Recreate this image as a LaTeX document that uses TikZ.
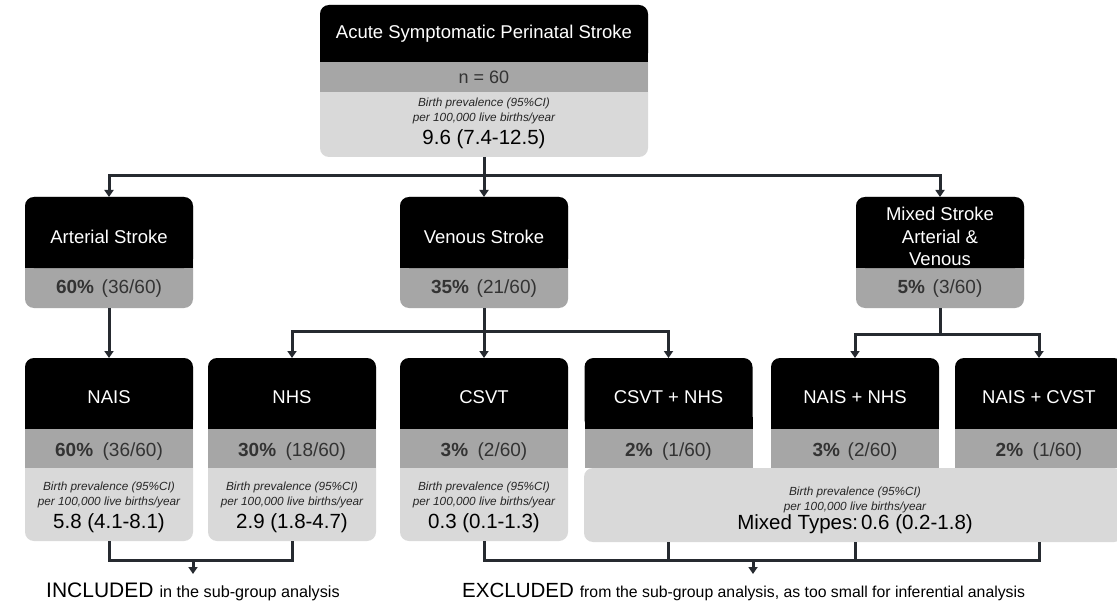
\documentclass[tikz,border=0pt]{standalone}
\usepackage{fontspec}
\setmainfont{Liberation Sans}
\usetikzlibrary{arrows.meta}
\definecolor{band}{HTML}{A6A6A6}
\definecolor{lite}{HTML}{D9D9D9}
\definecolor{bandtxt}{HTML}{333333}
\definecolor{conncol}{HTML}{262A30}
\begin{document}
\begin{tikzpicture}[x=1pt,y=-1pt,
  bgbox/.style={rounded corners=9pt, inner sep=0pt, outer sep=0pt, draw=none},
  hdrbox/.style={rounded corners=9pt, inner sep=0pt, outer sep=0pt, fill=black, minimum height=71pt},
  bandbox/.style={inner sep=0pt, outer sep=0pt, fill=band},
  hdrtxt/.style={text=white, inner sep=0pt, align=center, font=\fontsize{18.5}{22.5}\selectfont},
  bandtxt/.style={text=bandtxt, inner sep=0pt, font=\fontsize{19}{22}\selectfont},
  smallit/.style={text=black!85, inner sep=0pt, align=center, font=\itshape\fontsize{11.8}{15.5}\selectfont},
  valtxt/.style={text=black, inner sep=0pt, font=\fontsize{20.5}{24}\selectfont},
  conn/.style={draw=conncol, line width=3pt},
  arr/.style={conn, -{Triangle[length=7pt,width=9pt]}},
]
\useasboundingbox (0,0) rectangle (1117,615);
\fill[white] (0,0) rectangle (1117,615);

% ---------- top box ----------
\node[bgbox, fill=lite, minimum width=328pt, minimum height=152pt] (top) at (484,81) {};
\node[hdrbox, minimum width=328pt, minimum height=57pt] (topH) at (484,33.5) {};
\fill[black] (320,50) rectangle (648,62);
\node[bandbox, minimum width=328pt, minimum height=30pt] (topG) at (484,77) {};
\node[hdrtxt] (topT) at (484,34) {Acute Symptomatic Perinatal Stroke};
\node[bandtxt, font=\fontsize{18}{20}\selectfont] (topN) at (484,77) {n = 60};
\node[smallit] (topBP) at (484,111) {Birth prevalence (95\%CI)\\per 100,000 live births/year};
\node[valtxt] (topV) at (484,139) {9.6 (7.4-12.5)};

% ---------- level 2 ----------
\node[bgbox, fill=band, minimum width=168pt, minimum height=111pt] (art) at (109,252.5) {};
\node[hdrbox, minimum width=168pt] (artH) at (109,232.5) {};
\fill[black] (25,256) rectangle (193,268);
\node[hdrtxt] (artT) at (109,237) {Arterial Stroke};
\node[bandtxt] (artP) at (109,289) {\textbf{60\%}\hspace{.4em}(36/60)};

\node[bgbox, fill=band, minimum width=168pt, minimum height=111pt] (ven) at (484,252.5) {};
\node[hdrbox, minimum width=168pt] (venH) at (484,232.5) {};
\fill[black] (400,256) rectangle (568,268);
\node[hdrtxt] (venT) at (484,237) {Venous Stroke};
\node[bandtxt] (venP) at (484,289) {\textbf{35\%}\hspace{.4em}(21/60)};

\node[bgbox, fill=band, minimum width=168pt, minimum height=111pt] (mix) at (940,252.5) {};
\node[hdrbox, minimum width=168pt] (mixH) at (940,232.5) {};
\fill[black] (856,256) rectangle (1024,268);
\node[hdrtxt] (mixT) at (940,236.5) {Mixed Stroke\\Arterial \&\\Venous};
\node[bandtxt] (mixP) at (940,289) {\textbf{5\%}\hspace{.4em}(3/60)};

% ---------- level 3 ----------
% NAIS
\node[bgbox, fill=lite, minimum width=168pt, minimum height=183pt] (nais) at (109,449.5) {};
\node[hdrbox, minimum width=168pt] (naisH) at (109,393.5) {};
\fill[black] (25,417) rectangle (193,429);
\node[bandbox, minimum width=168pt, minimum height=39pt] (naisG) at (109,448.5) {};
\node[hdrtxt] (naisT) at (109,397) {NAIS};
\node[bandtxt] (naisP) at (109,452) {\textbf{60\%}\hspace{.5em}(36/60)};
\node[smallit] (naisBP) at (109,495) {Birth prevalence (95\%CI)\\per 100,000 live births/year};
\node[valtxt] (naisV) at (109,523) {5.8 (4.1-8.1)};
% NHS
\node[bgbox, fill=lite, minimum width=168pt, minimum height=183pt] (nhs) at (292,449.5) {};
\node[hdrbox, minimum width=168pt] (nhsH) at (292,393.5) {};
\fill[black] (208,417) rectangle (376,429);
\node[bandbox, minimum width=168pt, minimum height=39pt] (nhsG) at (292,448.5) {};
\node[hdrtxt] (nhsT) at (292,397) {NHS};
\node[bandtxt] (nhsP) at (292,452) {\textbf{30\%}\hspace{.5em}(18/60)};
\node[smallit] (nhsBP) at (292,495) {Birth prevalence (95\%CI)\\per 100,000 live births/year};
\node[valtxt] (nhsV) at (292,523) {2.9 (1.8-4.7)};
% CSVT
\node[bgbox, fill=lite, minimum width=168pt, minimum height=183pt] (csvt) at (484,449.5) {};
\node[hdrbox, minimum width=168pt] (csvtH) at (484,393.5) {};
\fill[black] (400,417) rectangle (568,429);
\node[bandbox, minimum width=168pt, minimum height=39pt] (csvtG) at (484,448.5) {};
\node[hdrtxt] (csvtT) at (484,397) {CSVT};
\node[bandtxt] (csvtP) at (484,452) {\textbf{3\%}\hspace{.5em}(2/60)};
\node[smallit] (csvtBP) at (484,495) {Birth prevalence (95\%CI)\\per 100,000 live births/year};
\node[valtxt] (csvtV) at (484,523) {0.3 (0.1-1.3)};
% combined light box
\node[bgbox, fill=lite, minimum width=539pt, minimum height=74pt] (comb) at (853.5,505) {};
\node[smallit] (combBP) at (855,500) {Birth prevalence (95\%CI)\\per 100,000 live births/year};
\node[valtxt] (combV) at (855,524) {Mixed Types:\hspace{.15em}0.6 (0.2-1.8)};
% CSVT + NHS
\node[inner sep=0pt, outer sep=0pt, minimum width=168pt, minimum height=110pt] (cn) at (668.5,413) {};
\node[hdrbox, minimum width=168pt] (cnH) at (668.5,393.5) {};
\fill[black] (584.5,417) rectangle (752.5,429);
\node[bandbox, minimum width=168pt, minimum height=39pt] (cnG) at (668.5,448.5) {};
\node[hdrtxt] (cnT) at (668.5,397) {CSVT + NHS};
\node[bandtxt] (cnP) at (668.5,452) {\textbf{2\%}\hspace{.5em}(1/60)};
% NAIS + NHS
\node[inner sep=0pt, outer sep=0pt, minimum width=168pt, minimum height=110pt] (nn) at (855,413) {};
\node[hdrbox, minimum width=168pt] (nnH) at (855,393.5) {};
\fill[black] (771,417) rectangle (939,429);
\node[bandbox, minimum width=168pt, minimum height=39pt] (nnG) at (855,448.5) {};
\node[hdrtxt] (nnT) at (855,397) {NAIS + NHS};
\node[bandtxt] (nnP) at (855,452) {\textbf{3\%}\hspace{.4em}(2/60)};
% NAIS + CVST
\node[inner sep=0pt, outer sep=0pt, minimum width=168pt, minimum height=110pt] (nc) at (1039,413) {};
\node[hdrbox, minimum width=168pt] (ncH) at (1039,393.5) {};
\fill[black] (955,417) rectangle (1123,429);
\node[bandbox, minimum width=168pt, minimum height=39pt] (ncG) at (1039,448.5) {};
\node[hdrtxt] (ncT) at (1039,397) {NAIS + CVST};
\node[bandtxt] (ncP) at (1039,452) {\textbf{2\%}\hspace{.5em}(1/60)};

% ---------- connectors ----------
\coordinate (j1) at (484,176);
\draw[conn] (top.south) -- (j1);
\draw[arr] (j1) -| (art.north);
\draw[arr] (j1) -- (ven.north);
\draw[arr] (j1) -| (mix.north);

\draw[arr] (art.south) -- (nais.north);
\coordinate (j2) at (484,331);
\draw[conn] (ven.south) -- (j2);
\draw[arr] (j2) -| (nhs.north);
\draw[arr] (j2) -- (csvt.north);
\draw[arr] (j2) -| (cn.north);
\coordinate (j3) at (940,334);
\draw[conn] (mix.south) -- (j3);
\draw[arr] (j3) -| (nn.north);
\draw[arr] (j3) -| (nc.north);

% bottom
\coordinate (inc) at (193,560);
\coordinate (incend) at (193,574);
\coordinate (exc) at (753,560);
\coordinate (excend) at (753,574);
\draw[conn] (nais.south) -- (nais.south |- inc) -- (nhs.south |- inc) -- (nhs.south);
\draw[arr] (inc) -- (incend);
\draw[conn] (csvt.south) -- (csvt.south |- exc) -- (exc -| nc) -- (comb.south -| nc);
\draw[conn] (comb.south -| cn) -- (exc -| cn);
\draw[conn] (comb.south -| nn) -- (exc -| nn);
\draw[arr] (exc) -- (excend);

\node[anchor=base west, inner sep=0pt] (inctxt) at (46,597.5)
  {{\fontsize{21}{24}\selectfont INCLUDED}\hspace{6pt}{\fontsize{16.2}{20}\selectfont in the sub-group analysis}};
\node[anchor=base west, inner sep=0pt] (exctxt) at (462,597.5)
  {{\fontsize{20.5}{24}\selectfont EXCLUDED}\hspace{6pt}{\fontsize{15.8}{20}\selectfont from the sub-group analysis, as too small for inferential analysis}};
\end{tikzpicture}
\end{document}
